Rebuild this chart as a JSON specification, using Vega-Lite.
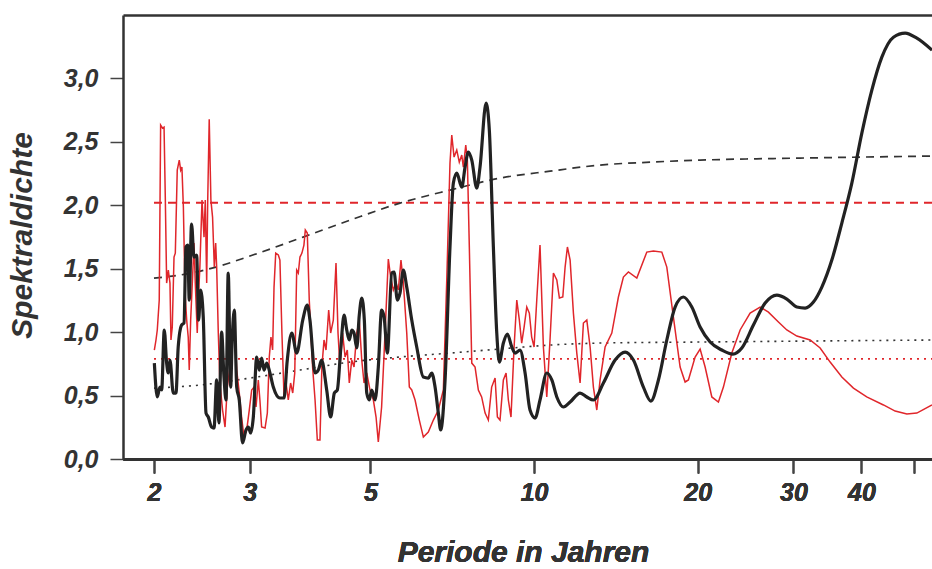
{
  "$schema": "https://vega.github.io/schema/vega-lite/v6.json",
  "width": 809,
  "height": 444,
  "autosize": {"type": "none"},
  "padding": {"left": 123, "top": 15, "right": 0, "bottom": 110},
  "background": "white",
  "config": {
    "view": {"stroke": null},
    "font": "Liberation Sans",
    "axis": {
      "grid": false,
      "domainColor": "#333333",
      "domainWidth": 2.5,
      "tickColor": "#444444",
      "tickWidth": 1.5,
      "labelFont": "Liberation Sans",
      "labelFontStyle": "italic",
      "labelFontWeight": "bold",
      "labelColor": "#333333",
      "labelFontSize": 25,
      "titleFont": "Liberation Sans",
      "titleFontStyle": "italic",
      "titleFontWeight": "bold",
      "titleColor": "#333333",
      "titleFontSize": 30
    }
  },
  "datasets": {
    "red": [
      {"p":2.003,"v":0.859},{"p":2.017,"v":0.938},{"p":2.028,"v":1.017},{"p":2.045,"v":1.253},{"p":2.057,"v":2.632},{"p":2.074,"v":2.608},{"p":2.087,"v":2.616},{"p":2.098,"v":2.065},{"p":2.110,"v":1.387},{"p":2.125,"v":1.489},{"p":2.140,"v":1.387},{"p":2.149,"v":0.938},{"p":2.161,"v":1.040},{"p":2.177,"v":1.592},{"p":2.189,"v":1.623},{"p":2.207,"v":2.277},{"p":2.226,"v":2.356},{"p":2.239,"v":2.277},{"p":2.251,"v":2.301},{"p":2.265,"v":1.986},{"p":2.281,"v":1.308},{"p":2.297,"v":1.095},{"p":2.312,"v":0.961},{"p":2.322,"v":0.701},{"p":2.336,"v":1.095},{"p":2.355,"v":1.434},{"p":2.369,"v":1.702},{"p":2.382,"v":1.387},{"p":2.402,"v":0.993},{"p":2.416,"v":1.308},{"p":2.429,"v":1.513},{"p":2.451,"v":2.041},{"p":2.472,"v":1.749},{"p":2.485,"v":2.041},{"p":2.500,"v":1.387},{"p":2.511,"v":2.041},{"p":2.527,"v":2.679},{"p":2.545,"v":2.041},{"p":2.563,"v":1.907},{"p":2.582,"v":1.513},{"p":2.597,"v":1.702},{"p":2.608,"v":1.513},{"p":2.626,"v":0.993},{"p":2.644,"v":0.599},{"p":2.674,"v":0.386},{"p":2.702,"v":0.252},{"p":2.728,"v":0.567},{"p":2.759,"v":0.725},{"p":2.790,"v":1.017},{"p":2.819,"v":0.993},{"p":2.839,"v":0.701},{"p":2.870,"v":0.520},{"p":2.898,"v":0.331},{"p":2.928,"v":0.173},{"p":2.962,"v":0.229},{"p":2.994,"v":0.386},{"p":3.025,"v":0.544},{"p":3.055,"v":0.567},{"p":3.081,"v":0.410},{"p":3.111,"v":0.623},{"p":3.132,"v":0.465},{"p":3.155,"v":0.252},{"p":3.201,"v":0.244},{"p":3.232,"v":0.362},{"p":3.259,"v":0.804},{"p":3.282,"v":0.961},{"p":3.305,"v":0.859},{"p":3.325,"v":1.355},{"p":3.349,"v":1.623},{"p":3.386,"v":1.608},{"p":3.409,"v":1.568},{"p":3.438,"v":0.993},{"p":3.469,"v":0.489},{"p":3.498,"v":0.599},{"p":3.532,"v":0.465},{"p":3.567,"v":0.599},{"p":3.599,"v":0.520},{"p":3.630,"v":0.678},{"p":3.660,"v":1.489},{"p":3.685,"v":1.466},{"p":3.711,"v":1.592},{"p":3.742,"v":1.623},{"p":3.774,"v":1.686},{"p":3.796,"v":1.805},{"p":3.828,"v":1.781},{"p":3.860,"v":1.253},{"p":3.883,"v":1.040},{"p":3.915,"v":0.725},{"p":3.956,"v":0.465},{"p":3.994,"v":0.150},{"p":4.039,"v":0.150},{"p":4.072,"v":0.725},{"p":4.109,"v":0.938},{"p":4.144,"v":0.859},{"p":4.191,"v":1.174},{"p":4.226,"v":0.993},{"p":4.274,"v":1.095},{"p":4.323,"v":1.544},{"p":4.360,"v":0.993},{"p":4.396,"v":0.725},{"p":4.445,"v":0.993},{"p":4.492,"v":0.804},{"p":4.535,"v":0.859},{"p":4.573,"v":0.599},{"p":4.621,"v":0.780},{"p":4.666,"v":0.725},{"p":4.720,"v":0.993},{"p":4.771,"v":1.095},{"p":4.821,"v":0.780},{"p":4.868,"v":0.599},{"p":4.924,"v":0.678},{"p":4.992,"v":0.544},{"p":5.064,"v":0.465},{"p":5.122,"v":0.331},{"p":5.171,"v":0.134},{"p":5.244,"v":0.410},{"p":5.321,"v":0.993},{"p":5.395,"v":1.576},{"p":5.449,"v":1.434},{"p":5.511,"v":1.332},{"p":5.575,"v":1.387},{"p":5.628,"v":1.332},{"p":5.692,"v":1.568},{"p":5.750,"v":1.387},{"p":5.833,"v":0.993},{"p":5.897,"v":0.567},{"p":5.958,"v":0.544},{"p":6.042,"v":0.465},{"p":6.152,"v":0.307},{"p":6.258,"v":0.173},{"p":6.391,"v":0.213},{"p":6.529,"v":0.307},{"p":6.668,"v":0.386},{"p":6.811,"v":0.544},{"p":6.910,"v":1.411},{"p":7.005,"v":2.333},{"p":7.058,"v":2.553},{"p":7.127,"v":2.380},{"p":7.209,"v":2.435},{"p":7.287,"v":2.340},{"p":7.363,"v":2.396},{"p":7.413,"v":2.301},{"p":7.489,"v":2.474},{"p":7.540,"v":2.356},{"p":7.603,"v":1.671},{"p":7.682,"v":0.756},{"p":7.790,"v":0.725},{"p":7.899,"v":0.544},{"p":8.010,"v":0.489},{"p":8.128,"v":0.362},{"p":8.240,"v":0.307},{"p":8.357,"v":0.567},{"p":8.479,"v":0.638},{"p":8.562,"v":0.331},{"p":8.658,"v":0.307},{"p":8.782,"v":0.623},{"p":8.883,"v":0.678},{"p":8.969,"v":0.465},{"p":9.070,"v":0.331},{"p":9.190,"v":0.883},{"p":9.295,"v":1.253},{"p":9.397,"v":1.095},{"p":9.490,"v":0.914},{"p":9.588,"v":1.040},{"p":9.697,"v":1.198},{"p":9.803,"v":1.150},{"p":9.900,"v":0.961},{"p":10.002,"v":0.883},{"p":10.116,"v":1.253},{"p":10.256,"v":1.686},{"p":10.404,"v":0.883},{"p":10.554,"v":0.489},{"p":10.700,"v":0.938},{"p":10.855,"v":1.466},{"p":11.012,"v":1.411},{"p":11.134,"v":1.269},{"p":11.295,"v":1.277},{"p":11.406,"v":1.513},{"p":11.518,"v":1.671},{"p":11.651,"v":1.568},{"p":11.814,"v":1.150},{"p":11.985,"v":0.835},{"p":12.154,"v":0.599},{"p":12.325,"v":1.072},{"p":12.504,"v":1.095},{"p":12.680,"v":0.883},{"p":12.858,"v":0.567},{"p":13.044,"v":0.386},{"p":13.228,"v":0.623},{"p":13.511,"v":0.883},{"p":13.900,"v":0.993},{"p":14.294,"v":1.277},{"p":14.600,"v":1.434},{"p":14.913,"v":1.474},{"p":15.453,"v":1.426},{"p":16.121,"v":1.631},{"p":16.579,"v":1.639},{"p":17.179,"v":1.631},{"p":17.546,"v":1.513},{"p":18.043,"v":1.119},{"p":18.563,"v":0.725},{"p":18.960,"v":0.607},{"p":19.227,"v":0.623},{"p":19.781,"v":0.804},{"p":20.204,"v":0.867},{"p":20.637,"v":0.725},{"p":21.230,"v":0.489},{"p":21.832,"v":0.449},{"p":22.299,"v":0.567},{"p":23.108,"v":0.835},{"p":23.935,"v":1.017},{"p":24.969,"v":1.150},{"p":26.050,"v":1.198},{"p":26.982,"v":1.158},{"p":28.149,"v":1.080},{"p":29.168,"v":1.017},{"p":30.431,"v":0.969},{"p":32.194,"v":0.938},{"p":33.587,"v":0.875},{"p":35.040,"v":0.764},{"p":36.821,"v":0.646},{"p":38.674,"v":0.559},{"p":40.912,"v":0.489},{"p":43.914,"v":0.426},{"p":46.145,"v":0.378},{"p":48.490,"v":0.355},{"p":50.587,"v":0.362},{"p":53.94,"v":0.426}
    ],
    "black": [
      {"p":2.003,"v":0.756},{"p":2.028,"v":0.489},{"p":2.051,"v":0.567},{"p":2.066,"v":0.544},{"p":2.089,"v":1.017},{"p":2.110,"v":0.756},{"p":2.125,"v":0.678},{"p":2.140,"v":0.780},{"p":2.170,"v":0.520},{"p":2.195,"v":0.520},{"p":2.216,"v":0.883},{"p":2.248,"v":1.056},{"p":2.271,"v":1.072},{"p":2.290,"v":1.671},{"p":2.307,"v":1.686},{"p":2.322,"v":1.253},{"p":2.345,"v":1.852},{"p":2.369,"v":1.592},{"p":2.396,"v":1.608},{"p":2.416,"v":1.095},{"p":2.436,"v":1.332},{"p":2.464,"v":1.119},{"p":2.493,"v":0.362},{"p":2.517,"v":0.331},{"p":2.552,"v":0.252},{"p":2.579,"v":0.244},{"p":2.608,"v":0.623},{"p":2.633,"v":0.284},{"p":2.663,"v":1.001},{"p":2.690,"v":0.646},{"p":2.713,"v":0.465},{"p":2.739,"v":1.466},{"p":2.767,"v":0.567},{"p":2.785,"v":0.938},{"p":2.810,"v":1.174},{"p":2.839,"v":0.567},{"p":2.870,"v":0.465},{"p":2.910,"v":0.126},{"p":2.953,"v":0.229},{"p":2.982,"v":0.252},{"p":3.012,"v":0.205},{"p":3.046,"v":0.331},{"p":3.090,"v":0.804},{"p":3.124,"v":0.701},{"p":3.155,"v":0.796},{"p":3.187,"v":0.701},{"p":3.224,"v":0.756},{"p":3.268,"v":0.678},{"p":3.315,"v":0.567},{"p":3.409,"v":0.481},{"p":3.469,"v":0.481},{"p":3.517,"v":0.780},{"p":3.584,"v":0.993},{"p":3.660,"v":0.835},{"p":3.755,"v":1.095},{"p":3.828,"v":1.214},{"p":3.871,"v":1.095},{"p":3.956,"v":0.678},{"p":4.011,"v":0.701},{"p":4.067,"v":0.780},{"p":4.156,"v":0.544},{"p":4.226,"v":0.331},{"p":4.293,"v":0.520},{"p":4.347,"v":0.544},{"p":4.409,"v":0.859},{"p":4.473,"v":1.135},{"p":4.524,"v":1.017},{"p":4.573,"v":0.938},{"p":4.621,"v":1.017},{"p":4.666,"v":0.993},{"p":4.720,"v":0.875},{"p":4.771,"v":1.135},{"p":4.821,"v":1.269},{"p":4.874,"v":1.095},{"p":4.924,"v":0.520},{"p":4.977,"v":0.465},{"p":5.029,"v":0.544},{"p":5.100,"v":0.465},{"p":5.171,"v":0.725},{"p":5.244,"v":1.174},{"p":5.299,"v":1.119},{"p":5.373,"v":0.835},{"p":5.474,"v":1.466},{"p":5.528,"v":1.474},{"p":5.605,"v":1.253},{"p":5.668,"v":1.308},{"p":5.750,"v":1.489},{"p":5.833,"v":1.355},{"p":5.958,"v":1.095},{"p":6.085,"v":0.883},{"p":6.258,"v":0.646},{"p":6.391,"v":0.638},{"p":6.485,"v":0.678},{"p":6.576,"v":0.567},{"p":6.668,"v":0.362},{"p":6.734,"v":0.229},{"p":6.861,"v":0.623},{"p":7.005,"v":1.671},{"p":7.106,"v":2.175},{"p":7.209,"v":2.254},{"p":7.363,"v":2.143},{"p":7.467,"v":2.301},{"p":7.571,"v":2.419},{"p":7.682,"v":2.356},{"p":7.846,"v":2.136},{"p":7.955,"v":2.301},{"p":8.162,"v":2.805},{"p":8.275,"v":2.593},{"p":8.418,"v":1.671},{"p":8.540,"v":0.993},{"p":8.633,"v":0.764},{"p":8.782,"v":0.914},{"p":8.932,"v":0.985},{"p":9.100,"v":0.883},{"p":9.229,"v":0.835},{"p":9.423,"v":0.859},{"p":9.628,"v":0.678},{"p":9.831,"v":0.386},{"p":10.044,"v":0.323},{"p":10.256,"v":0.465},{"p":10.554,"v":0.678},{"p":10.781,"v":0.623},{"p":11.012,"v":0.489},{"p":11.325,"v":0.410},{"p":11.651,"v":0.449},{"p":12.154,"v":0.520},{"p":12.504,"v":0.489},{"p":12.858,"v":0.465},{"p":13.414,"v":0.599},{"p":14.096,"v":0.780},{"p":14.706,"v":0.843},{"p":15.232,"v":0.780},{"p":15.891,"v":0.567},{"p":16.397,"v":0.457},{"p":16.934,"v":0.623},{"p":17.546,"v":0.938},{"p":18.174,"v":1.198},{"p":18.824,"v":1.277},{"p":19.506,"v":1.198},{"p":20.204,"v":1.040},{"p":21.078,"v":0.922},{"p":22.149,"v":0.859},{"p":23.206,"v":0.827},{"p":24.108,"v":0.875},{"p":25.321,"v":1.056},{"p":26.608,"v":1.229},{"p":27.959,"v":1.292},{"p":29.168,"v":1.261},{"p":30.431,"v":1.198},{"p":31.520,"v":1.190},{"p":32.647,"v":1.237},{"p":33.830,"v":1.355},{"p":35.293,"v":1.568},{"p":36.821,"v":1.860},{"p":38.413,"v":2.175},{"p":40.075,"v":2.569},{"p":41.809,"v":2.908},{"p":43.618,"v":3.168},{"p":45.814,"v":3.325},{"p":48.142,"v":3.357},{"p":50.587,"v":3.317},{"p":53.94,"v":3.223}
    ],
    "bdash": [
      {"p":2,"v":1.426},{"p":2.232,"v":1.450},{"p":2.601,"v":1.513},{"p":3.003,"v":1.600},{"p":3.760,"v":1.749},{"p":4.588,"v":1.883},{"p":5.668,"v":2.017},{"p":7.005,"v":2.120},{"p":8.658,"v":2.214},{"p":10.700,"v":2.269},{"p":13.228,"v":2.317},{"p":16.349,"v":2.340},{"p":20.204,"v":2.356},{"p":30.859,"v":2.372},{"p":53.94,"v":2.388}
    ],
    "bdot": [
      {"p":2,"v":0.559},{"p":2.429,"v":0.583},{"p":3.003,"v":0.638},{"p":3.711,"v":0.701},{"p":4.588,"v":0.764},{"p":5.668,"v":0.804},{"p":7.005,"v":0.835},{"p":8.658,"v":0.867},{"p":10.700,"v":0.898},{"p":13.228,"v":0.914},{"p":20.204,"v":0.922},{"p":53.94,"v":0.938}
    ],
    "rdash": [{"p":2,"v":2.02},{"p":53.94,"v":2.02}],
    "rdot": [{"p":2,"v":0.79},{"p":53.94,"v":0.79}]
  },
  "encoding": {
    "x": {
      "field": "p",
      "type": "quantitative",
      "scale": {"type": "log", "domain": [1.754, 53.94], "nice": false},
      "axis": {
        "orient": "bottom",
        "values": [2, 3, 5, 10, 20, 30, 40, 50],
        "labelExpr": "datum.value == 50 ? '' : '' + datum.value",
        "tickSize": 14,
        "labelPadding": 7,
        "labelFlush": false,
        "labelOverlap": false,
        "title": "Periode in Jahren",
        "titleBaseline": "alphabetic",
        "titleY": 102,
        "titleX": 400
      }
    },
    "y": {
      "field": "v",
      "type": "quantitative",
      "scale": {"domain": [0, 3.5], "nice": false, "zero": false},
      "axis": {
        "values": [0, 0.5, 1, 1.5, 2, 2.5, 3],
        "labelExpr": "replace(format(datum.value, '.1f'), '.', ',')",
        "tickSize": 13,
        "labelPadding": 12,
        "labelBaseline": "middle",
        "labelFlush": false,
        "title": "Spektraldichte",
        "titleBaseline": "alphabetic",
        "titleX": -92,
        "titleY": 220,
        "titleAngle": -90
      }
    }
  },
  "layer": [
    {
      "data": {"name": "rdash"},
      "mark": {"type": "line", "color": "#e0262b", "strokeWidth": 1.8, "strokeDash": [8, 6], "clip": true},
      "encoding": {
        "x": {
          "field": "p",
          "type": "quantitative",
          "scale": {"type": "log", "domain": [1.754, 53.94], "nice": false},
          "axis": {"orient": "top", "ticks": false, "labels": false, "title": null, "domain": true}
        }
      }
    },
    {
      "data": {"name": "rdot"},
      "mark": {"type": "line", "color": "#e0262b", "strokeWidth": 1.8, "strokeDash": [2, 5], "clip": true}
    },
    {
      "data": {"name": "bdash"},
      "mark": {"type": "line", "color": "#333333", "strokeWidth": 1.7, "strokeDash": [8, 6], "interpolate": "monotone", "clip": true}
    },
    {
      "data": {"name": "bdot"},
      "mark": {"type": "line", "color": "#333333", "strokeWidth": 1.6, "strokeDash": [2, 5], "interpolate": "monotone", "clip": true}
    },
    {
      "data": {"name": "red"},
      "mark": {"type": "line", "color": "#e0262b", "strokeWidth": 1.5, "clip": true}
    },
    {
      "data": {"name": "black"},
      "mark": {"type": "line", "color": "#222222", "strokeWidth": 3.2, "interpolate": "monotone", "clip": true}
    }
  ]
}
